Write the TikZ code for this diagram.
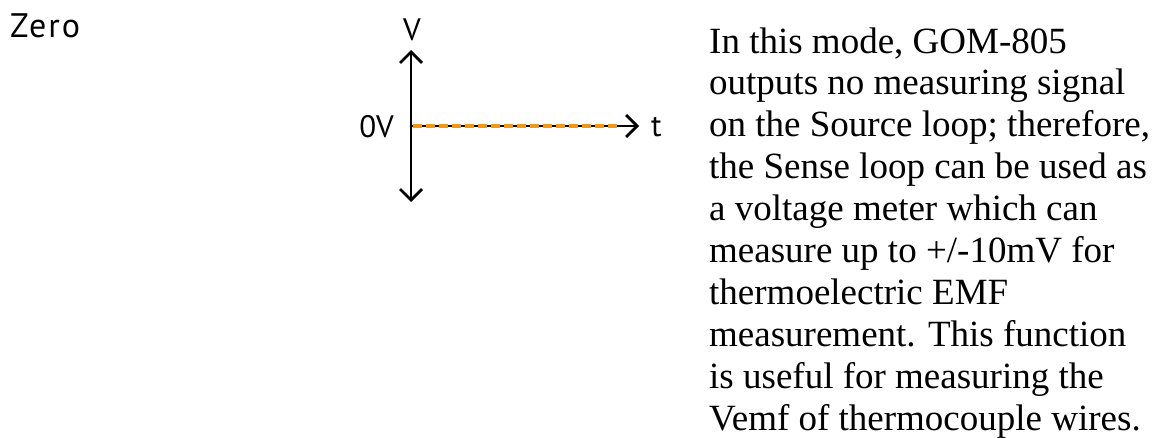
\documentclass[tikz,border=0pt]{standalone}
\usepackage{fontspec}
\setmainfont{Liberation Serif}
\newfontfamily\labelfont{PT Sans}
\newfontfamily\headfont[LetterSpace=6]{PT Sans}
\usetikzlibrary{arrows.meta}
\definecolor{zeroline}{RGB}{242,152,18}

\begin{document}
\begin{tikzpicture}[x=1pt,y=-1pt,>={Straight Barb[length=11pt,width=22pt]},line cap=round,
  axis/.style={line width=2.8pt},
  lbl/.style={inner sep=0pt,font=\labelfont\fontsize{31}{36}\selectfont},
  body/.style={anchor=base west,inner sep=0pt,font=\fontsize{37}{42}\selectfont}]
\useasboundingbox (0,0) rectangle (1155,437);
\node[anchor=base west,inner sep=0pt,font=\headfont\fontsize{34}{38}\selectfont] (mode) at (10,37) {Zero};
\coordinate (vtop) at (411,50);
\coordinate (vbot) at (411,202);
\coordinate (origin) at (411,126);
\coordinate (zstart) at (413,126);
\coordinate (zend) at (618,126);
\coordinate (tend) at (639,126);
\draw[axis,<->] (vbot) -- (vtop);
\draw[axis,->] (origin) -- (tend);
\draw[zeroline,line width=4pt,line cap=butt,dash pattern=on 9pt off 4pt] (zstart) -- (zend);
\node[lbl,anchor=base] (vlabel) at (412,40) {V};
\node[lbl,anchor=base east] (zerolabel) at (394,137) {0V};
\node[lbl,anchor=base west] (tlabel) at (651,136) {t};
\foreach \txt [count=\i from 0] in {{In this mode, GOM-805},{outputs no measuring signal},
  {on the Source loop; therefore,},{the Sense loop can be used as},{a voltage meter which can},
  {measure up to +/-10mV for},{thermoelectric EMF},{measurement. This function},
  {is useful for measuring the},{Vemf of thermocouple wires.}}
  \node[body] (line\i) at (709,53+41.9*\i) {\txt};
\end{tikzpicture}
\end{document}
